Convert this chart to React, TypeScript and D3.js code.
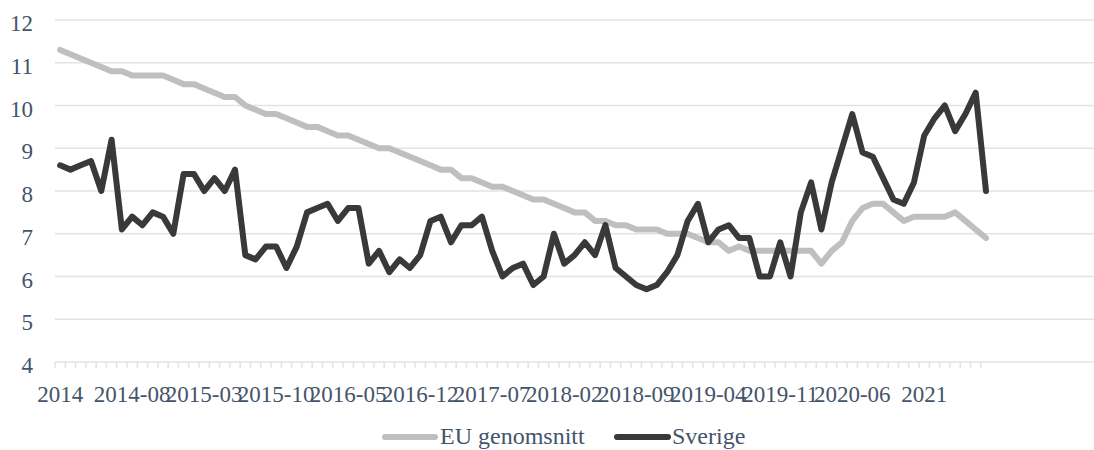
import React from "react";
import * as d3 from "d3";

const months: string[] = [];
for (let y = 2014; y <= 2022; y++) {
  for (let m = 1; m <= 12; m++) {
    months.push(`${y}-${String(m).padStart(2, "0")}`);
  }
}
// slots on the axis: 2014-01 .. 2022-05
const slots = months.slice(0, 101);
// data months: 2014-01 .. 2021-07
const dataMonths = months.slice(0, 91);

const xLabels: { month: string; label: string }[] = [
  { month: "2014-01", label: "2014" },
  { month: "2014-08", label: "2014-08" },
  { month: "2015-03", label: "2015-03" },
  { month: "2015-10", label: "2015-10" },
  { month: "2016-05", label: "2016-05" },
  { month: "2016-12", label: "2016-12" },
  { month: "2017-07", label: "2017-07" },
  { month: "2018-02", label: "2018-02" },
  { month: "2018-09", label: "2018-09" },
  { month: "2019-04", label: "2019-04" },
  { month: "2019-11", label: "2019-11" },
  { month: "2020-06", label: "2020-06" },
  { month: "2021-01", label: "2021" },
];

const yTicks = [4, 5, 6, 7, 8, 9, 10, 11, 12];

const euValues = [
  11.3, 11.2, 11.1, 11.0, 10.9, 10.8, 10.8, 10.7, 10.7, 10.7,
  10.7, 10.6, 10.5, 10.5, 10.4, 10.3, 10.2, 10.2, 10.0, 9.9,
  9.8, 9.8, 9.7, 9.6, 9.5, 9.5, 9.4, 9.3, 9.3, 9.2,
  9.1, 9.0, 9.0, 8.9, 8.8, 8.7, 8.6, 8.5, 8.5, 8.3,
  8.3, 8.2, 8.1, 8.1, 8.0, 7.9, 7.8, 7.8, 7.7, 7.6,
  7.5, 7.5, 7.3, 7.3, 7.2, 7.2, 7.1, 7.1, 7.1, 7.0,
  7.0, 7.0, 6.9, 6.8, 6.8, 6.6, 6.7, 6.6, 6.6, 6.6,
  6.6, 6.6, 6.6, 6.6, 6.3, 6.6, 6.8, 7.3, 7.6, 7.7,
  7.7, 7.5, 7.3, 7.4, 7.4, 7.4, 7.4, 7.5, 7.3, 7.1,
  6.9,
];

const seValues = [
  8.6, 8.5, 8.6, 8.7, 8.0, 9.2, 7.1, 7.4, 7.2, 7.5,
  7.4, 7.0, 8.4, 8.4, 8.0, 8.3, 8.0, 8.5, 6.5, 6.4,
  6.7, 6.7, 6.2, 6.7, 7.5, 7.6, 7.7, 7.3, 7.6, 7.6,
  6.3, 6.6, 6.1, 6.4, 6.2, 6.5, 7.3, 7.4, 6.8, 7.2,
  7.2, 7.4, 6.6, 6.0, 6.2, 6.3, 5.8, 6.0, 7.0, 6.3,
  6.5, 6.8, 6.5, 7.2, 6.2, 6.0, 5.8, 5.7, 5.8, 6.1,
  6.5, 7.3, 7.7, 6.8, 7.1, 7.2, 6.9, 6.9, 6.0, 6.0,
  6.8, 6.0, 7.5, 8.2, 7.1, 8.2, 9.0, 9.8, 8.9, 8.8,
  8.3, 7.8, 7.7, 8.2, 9.3, 9.7, 10.0, 9.4, 9.8, 10.3,
  8.0,
];

const series = [
  { name: "EU genomsnitt", values: euValues, color: "#bfbfbf" },
  { name: "Sverige", values: seValues, color: "#3a3838" },
];

const W = 1094;
const H = 450;
const left = 55;
const right = 1094;
const top = 20;
const bottom = 362;
const textColor = "#44546a";
const gridColor = "#dfe3ea";
const axisStyle: React.CSSProperties = { fontFamily: "Liberation Serif", fontSize: "23px" };
const legendStyle: React.CSSProperties = { fontFamily: "Liberation Serif", fontSize: "24px" };

export default function App() {
  const x = d3.scaleBand<string>().domain(slots).range([left, right]).padding(0);
  const y = d3.scaleLinear().domain([4, 12]).range([bottom, top]);
  const cx = (m: string) => (x(m) as number) + x.bandwidth() / 2;

  const line = d3
    .line<number>()
    .x((_, i) => cx(dataMonths[i]))
    .y((d) => y(d));

  return (
    <svg
      width={W}
      height={H}
      style={{ position: "absolute", left: 0, top: 0, background: "#fff" }}
    >
      {yTicks.map((t) => (
        <g key={t}>
          <line
            x1={left}
            x2={right}
            y1={y(t)}
            y2={y(t)}
            stroke={gridColor}
            strokeWidth={1.5}
          />
          <text x={33} y={y(t) + 11} textAnchor="end" style={axisStyle} fill={textColor}>
            {t}
          </text>
        </g>
      ))}
      {dataMonths.map((m) => (
        <line
          key={m}
          x1={x(m) as number}
          x2={x(m) as number}
          y1={bottom}
          y2={bottom + 6}
          stroke={gridColor}
          strokeWidth={1.5}
        />
      ))}
      {xLabels.map((l) => (
        <text
          key={l.month}
          x={cx(l.month)}
          y={402}
          textAnchor="middle"
          style={axisStyle}
          fill={textColor}
        >
          {l.label}
        </text>
      ))}
      {series.map((s) => (
        <path
          key={s.name}
          d={line(s.values) || ""}
          fill="none"
          stroke={s.color}
          strokeWidth={6}
          strokeLinejoin="round"
          strokeLinecap="round"
        />
      ))}
      <g>
        <line x1={385} x2={435} y1={437} y2={437} stroke="#bfbfbf" strokeWidth={6} strokeLinecap="round" />
        <text x={440} y={444} style={legendStyle} fill={textColor}>
          EU genomsnitt
        </text>
        <line x1={617} x2={668} y1={437} y2={437} stroke="#3a3838" strokeWidth={6} strokeLinecap="round" />
        <text x={672} y={444} style={legendStyle} fill={textColor}>
          Sverige
        </text>
      </g>
    </svg>
  );
}
